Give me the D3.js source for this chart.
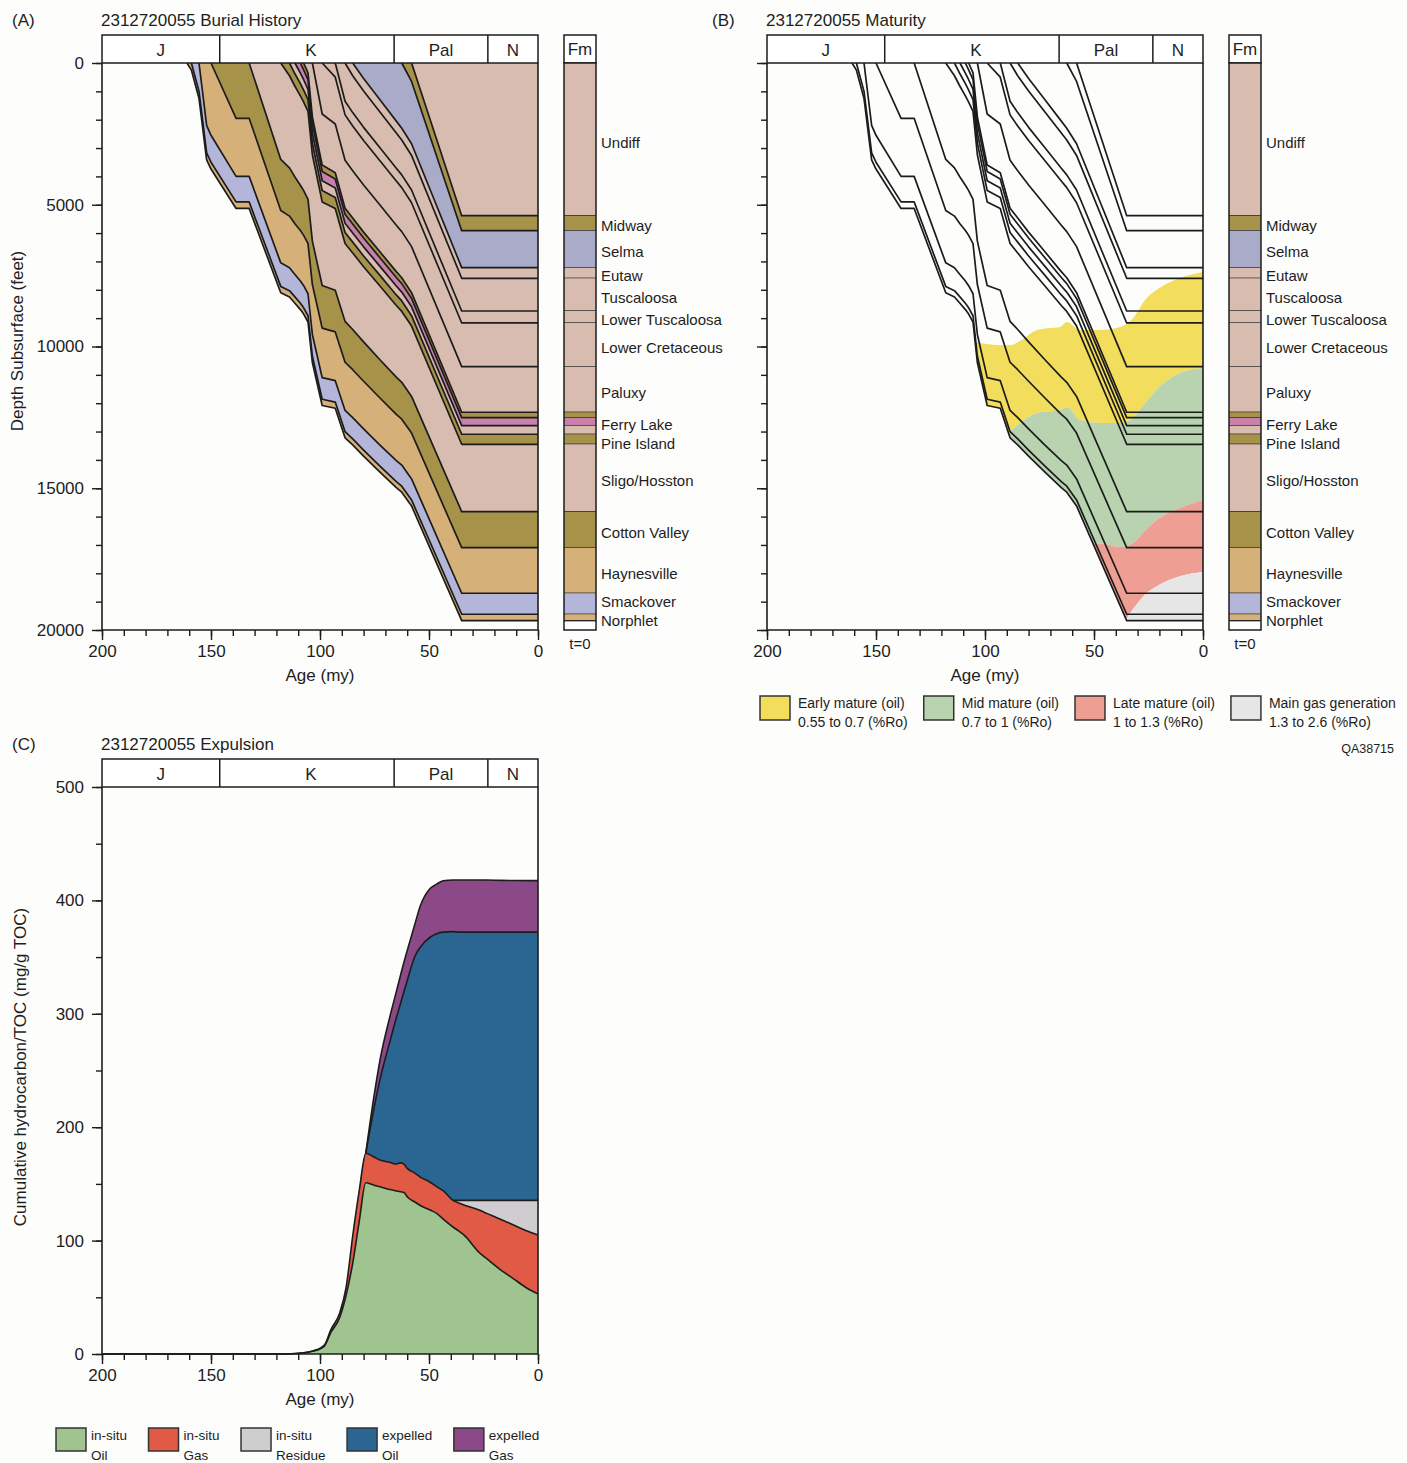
<!DOCTYPE html>
<html>
<head>
<meta charset="utf-8">
<title>2312720055 burial history, maturity and expulsion</title>
<script src="https://cdn.jsdelivr.net/npm/d3@7"></script>
<style>
  body { margin: 0; background: #fdfdfc; }
  svg text { font-family: "Liberation Sans", Arial, sans-serif; fill: #1e1e1e; }
</style>
</head>
<body>
<script>
var w = 1407, h = 1463;

// ---------------- DATA ----------------
var periodNames = ["J", "K", "Pal", "N"];
var periodBounds = [200, 146, 66, 23, 0];

// burial model time steps (my)
var steps = [161, 159, 155.5, 152, 150, 138.5, 132.5, 118, 114, 111.5, 109, 107.5, 105.5, 103.5, 99, 93, 88.5, 85, 80, 72.5, 65, 62.5, 58, 35, 0];

// layer thickness (feet) at each step, youngest first
var thUndiff       = [0,0,0,0,0,0,0,0,0,0,0,0,0,0,0,0,0,0,0,0,0,0,0,5386,5386];
var thMidway       = [0,0,0,0,0,0,0,0,0,0,0,0,0,0,0,0,0,0,0,0,0,0,650,529,529];
var thSelma        = [0,0,0,0,0,0,0,0,0,0,0,0,0,0,0,0,0,0,550,1300,2050,2300,2200,1305,1305];
var thEutaw        = [0,0,0,0,0,0,0,0,0,0,0,0,0,0,0,0,0,450,440,430,420,415,410,374,374];
var thTusc         = [0,0,0,0,0,0,0,0,0,0,0,0,0,0,0,0,1350,1300,1280,1260,1240,1230,1220,1153,1153];
var thLowerTusc    = [0,0,0,0,0,0,0,0,0,0,0,0,0,0,0,500,480,470,465,460,455,452,448,423,423];
var thLowerCret    = [0,0,0,0,0,0,0,0,0,0,0,0,0,0,1800,1650,1600,1580,1570,1560,1555,1550,1548,1542,1542];
var thPaluxy       = [0,0,0,0,0,0,0,0,0,0,0,0,350,1900,1800,1720,1690,1670,1660,1650,1640,1630,1625,1608,1608];
var thUnitA        = [0,0,0,0,0,0,0,0,0,0,0,240,235,230,225,220,215,212,210,208,206,205,204,191,191];
var thFerryLake    = [0,0,0,0,0,0,0,0,0,0,360,350,345,340,330,320,315,312,310,305,300,298,296,282,282];
var thUnitB        = [0,0,0,0,0,0,0,0,0,380,370,365,360,355,345,335,330,325,322,318,315,313,311,303,303];
var thPineIsland   = [0,0,0,0,0,0,0,0,450,440,430,425,420,410,400,390,385,380,378,375,372,370,368,353,353];
var thSligo        = [0,0,0,0,0,0,0,3400,3250,3200,3150,3120,3100,3050,2950,2880,2750,2700,2650,2600,2530,2500,2480,2377,2377];
var thCottonValley = [0,0,0,0,0,1950,1950,1800,1700,1650,1600,1580,1560,1530,1500,1470,1440,1420,1390,1350,1310,1300,1295,1270,1270];
var thHaynesville  = [0,0,0,2200,2550,2050,2050,1850,1820,1790,1780,1775,1770,1760,1750,1720,1700,1690,1680,1660,1630,1620,1615,1608,1608];
var thSmackover    = [0,0,1000,970,950,900,900,830,810,790,785,780,775,770,760,755,750,748,747,745,744,743,742,741,741];
var thNorphlet     = [0,250,250,245,240,230,230,225,225,225,224,223,222,221,220,218,216,215,214,213,212,212,212,227,227];

var fmKeys = ["Undiff", "Midway", "Selma", "Eutaw", "Tuscaloosa", "LowerTuscaloosa", "LowerCretaceous", "Paluxy",
  "UnitA", "FerryLake", "UnitB", "PineIsland", "Sligo", "CottonValley", "Haynesville", "Smackover", "Norphlet"];
var fmLabels = ["Undiff", "Midway", "Selma", "Eutaw", "Tuscaloosa", "Lower Tuscaloosa", "Lower Cretaceous", "Paluxy",
  "", "Ferry Lake", "", "Pine Island", "Sligo/Hosston", "Cotton Valley", "Haynesville", "Smackover", "Norphlet"];
var thickness = {
  Undiff: thUndiff, Midway: thMidway, Selma: thSelma, Eutaw: thEutaw, Tuscaloosa: thTusc,
  LowerTuscaloosa: thLowerTusc, LowerCretaceous: thLowerCret, Paluxy: thPaluxy, UnitA: thUnitA,
  FerryLake: thFerryLake, UnitB: thUnitB, PineIsland: thPineIsland, Sligo: thSligo,
  CottonValley: thCottonValley, Haynesville: thHaynesville, Smackover: thSmackover, Norphlet: thNorphlet
};

// maturity (%Ro) iso-lines, depth (feet) at ages
var matAges = [120, 105, 100, 93, 88, 84, 76, 70, 65.6, 62.4, 56.4, 47, 38, 32, 26.6, 20, 10.6, 0];
var ro055 = [9950, 9840, 9900, 9946, 9946, 9805, 9417, 9350, 9311, 9135, 9417, 9417, 9311, 8994, 8359, 7936, 7584, 7371];
var ro070 = [13500, 13400, 13300, 13100, 12944, 12700, 12345, 12280, 12239, 12133, 12591, 12697, 12697, 12500, 12000, 11428, 10934, 10758];
var ro100 = [17000, 17000, 17000, 17000, 17000, 17000, 17000, 17000, 17000, 17000, 17000, 16950, 17071, 16930, 16500, 16050, 15700, 15413];
var ro130 = [19900, 19900, 19900, 19900, 19900, 19900, 19900, 19900, 19900, 19900, 19900, 19900, 19822, 19250, 18750, 18400, 18100, 17952];
var matNames = ["Early mature (oil)", "Mid mature (oil)", "Late mature (oil)", "Main gas generation"];
var matRanges = ["0.55 to 0.7 (%Ro)", "0.7 to 1 (%Ro)", "1 to 1.3 (%Ro)", "1.3 to 2.6 (%Ro)"];

// expulsion (mg/g TOC), per component
var expAges      = [200, 120, 111, 103, 98, 95, 91, 88, 85, 82, 79, 75.5, 72.5, 68, 65.5, 63, 61.5, 60, 56.5, 54, 49.5, 46.5, 43.5, 39, 36, 34, 27, 23.5, 17, 11, 5, 0];
var inSituOil    = [0, 0, 0.5, 2.6, 7, 19, 32, 52, 80, 117, 151, 149, 147.5, 145, 144, 143, 142.5, 138.7, 134, 131, 127, 124, 119, 112, 108, 105, 89.5, 84, 74, 66, 58, 53];
var inSituGas    = [0, 0, 0, 0.3, 1, 2.5, 4, 7, 24, 27, 26, 25, 23.5, 24, 23.5, 25.5, 25, 25, 25.5, 25, 24.5, 23.6, 25, 23.5, 25, 26.5, 37.4, 40, 44.7, 47.6, 50.5, 52];
var inSituResidue= [0, 0, 0, 0, 0, 0, 0, 0, 0, 0, 0, 0, 0, 0, 0, 0, 0, 0, 0, 0, 0, 0, 0, 0, 2.5, 4, 8.6, 11.5, 16.8, 21.9, 27, 30.5];
var expelledOil  = [0, 0, 0, 0, 0, 0, 0, 0, 0, 0, 0, 40, 71, 106, 125.5, 141, 152, 165.5, 191, 202.7, 216, 223, 228, 237, 236.5, 236.5, 236.5, 236.5, 236.5, 236.5, 236.5, 236.5];
var expelledGas  = [0, 0, 0, 0, 0, 0, 0, 0, 0, 0, 0, 10, 17, 22, 22.8, 25, 26, 26.5, 28.5, 36.3, 43, 43.7, 45.4, 45.5, 46, 46, 46, 46, 45.7, 45.5, 45.4, 45.4];
var expKeys   = ["inSituOil", "inSituGas", "inSituResidue", "expelledOil", "expelledGas"];
var expLabels = [["in-situ", "Oil"], ["in-situ", "Gas"], ["in-situ", "Residue"], ["expelled", "Oil"], ["expelled", "Gas"]];

// ---------------- STYLE ----------------
var PB = "#d8bcb0", OL = "#a69249", LAV = "#a9abc9", LAV2 = "#b4b6d9", TAN = "#d6b079", PINK = "#c880ac";
var fmColors = [PB, OL, LAV, PB, PB, PB, PB, PB, OL, PINK, PB, OL, PB, OL, TAN, LAV2, TAN];
var matColors = ["#f2dd5c", "#b9d3b1", "#ee9e92", "#e6e6e6"];
var expColors = ["#9fc48f", "#e05a45", "#d0cdd0", "#2b6692", "#8b4a87"];
var ink = "#1c1c1c";

// ---------------- SETUP ----------------
var svg = d3.select("body").append("svg").attr("width", w).attr("height", h);
svg.append("rect").attr("width", w).attr("height", h).attr("fill", "#fdfdfc");

var xA = d3.scaleLinear().domain([200, 0]).range([102, 538]);
var xB = d3.scaleLinear().domain([200, 0]).range([767, 1203]);
var yD = d3.scaleLinear().domain([0, 20000]).range([63, 630]);
var yC = d3.scaleLinear().domain([0, 500]).range([1354, 787]);

var burialRows = steps.map(function (age, i) {
  var row = { age: age };
  fmKeys.forEach(function (k) { row[k] = thickness[k][i]; });
  return row;
});
var burialStack = d3.stack().keys(fmKeys)(burialRows);

function txt(x, y, s, size, anchor) {
  return svg.append("text").attr("x", x).attr("y", y).attr("dy", "0.35em")
    .attr("font-size", size).attr("text-anchor", anchor || "start").text(s);
}

function header(x, top) {
  var g = svg.append("g");
  g.append("rect").attr("x", x(200)).attr("y", top).attr("width", x(0) - x(200)).attr("height", 28)
    .attr("fill", "#fff").attr("stroke", ink).attr("stroke-width", 1.5);
  periodBounds.slice(1, -1).forEach(function (b) {
    g.append("line").attr("x1", x(b)).attr("x2", x(b)).attr("y1", top).attr("y2", top + 28)
      .attr("stroke", ink).attr("stroke-width", 1.5);
  });
  periodNames.forEach(function (n, i) {
    g.append("text").attr("x", (x(periodBounds[i]) + x(periodBounds[i + 1])) / 2 + (i == 1 ? 4 : 0)).attr("y", top + 15)
      .attr("dy", "0.35em").attr("text-anchor", "middle").attr("font-size", 17).text(n);
  });
}

function xAxis(x, y0) {
  var minor = svg.append("g").attr("transform", "translate(0," + y0 + ")")
    .call(d3.axisBottom(x).tickValues(d3.range(0, 201, 10)).tickSize(6).tickFormat(""));
  var major = svg.append("g").attr("transform", "translate(0," + y0 + ")")
    .call(d3.axisBottom(x).tickValues([200, 150, 100, 50, 0]).tickSize(10).tickPadding(5).tickFormat(d3.format("d")));
  [minor, major].forEach(function (g) {
    g.select(".domain").remove();
    g.attr("font-size", 17).attr("font-family", null);
    g.selectAll("line").attr("stroke", ink).attr("stroke-width", 1.4);
  });
  svg.append("line").attr("x1", x(200)).attr("x2", x(0)).attr("y1", y0).attr("y2", y0)
    .attr("stroke", ink).attr("stroke-width", 1.6);
  txt((x(200) + x(0)) / 2, y0 + 45, "Age (my)", 17, "middle");
}

function yAxis(y, x0, majorTicks, minorTicks, labelled) {
  var minor = svg.append("g").attr("transform", "translate(" + x0 + ",0)")
    .call(d3.axisLeft(y).tickValues(minorTicks).tickSize(6).tickFormat(""));
  var major = svg.append("g").attr("transform", "translate(" + x0 + ",0)")
    .call(d3.axisLeft(y).tickValues(majorTicks).tickSize(10).tickPadding(8)
      .tickFormat(labelled ? d3.format("d") : ""));
  [minor, major].forEach(function (g) {
    g.select(".domain").remove();
    g.attr("font-size", 17).attr("font-family", null);
    g.selectAll("line").attr("stroke", ink).attr("stroke-width", 1.4);
  });
}

function vline(x, y1, y2) {
  svg.append("line").attr("x1", x).attr("x2", x).attr("y1", y1).attr("y2", y2)
    .attr("stroke", ink).attr("stroke-width", 1.6);
}

// ---------------- BURIAL PANELS ----------------
function horizonLines(g, x) {
  var line = d3.line().x(function (d) { return x(d.data.age); }).y(function (d) { return yD(d[1]); });
  burialStack.forEach(function (s) {
    var first = s.findIndex(function (d) { return d[1] > 0; });
    g.append("path").attr("d", line(s.slice(Math.max(first - 1, 0))))
      .attr("fill", "none").attr("stroke", ink).attr("stroke-width", 1.7).attr("stroke-linejoin", "round");
  });
}

function fmColumn(x0) {
  var cw = 32;
  var g = svg.append("g");
  g.append("rect").attr("x", x0).attr("y", 35).attr("width", cw).attr("height", 28)
    .attr("fill", "#fff").attr("stroke", ink).attr("stroke-width", 1.5);
  g.append("text").attr("x", x0 + cw / 2).attr("y", 49).attr("dy", "0.35em").attr("text-anchor", "middle")
    .attr("font-size", 17).text("Fm");
  g.append("rect").attr("x", x0).attr("y", yD(0)).attr("width", cw).attr("height", yD(20000) - yD(0)).attr("fill", "#fff");
  var present = burialStack.map(function (s) { return s[s.length - 1]; });
  present.forEach(function (d, i) {
    g.append("rect").attr("x", x0).attr("y", yD(d[0])).attr("width", cw).attr("height", yD(d[1]) - yD(d[0]))
      .attr("fill", fmColors[i]);
    g.append("line").attr("x1", x0).attr("x2", x0 + cw).attr("y1", yD(d[1])).attr("y2", yD(d[1]))
      .attr("stroke", ink).attr("stroke-width", 1.3);
  });
  g.append("rect").attr("x", x0).attr("y", yD(0)).attr("width", cw).attr("height", yD(20000) - yD(0))
    .attr("fill", "none").attr("stroke", ink).attr("stroke-width", 1.5);
  // labels: centred on the layer, pushed apart where layers are thin
  var ys = [], idx = [];
  present.forEach(function (d, i) {
    if (!fmLabels[i]) return;
    idx.push(i);
    ys.push((yD(d[0]) + yD(d[1])) / 2 + 3);
  });
  for (var k = 1; k < ys.length; k++) ys[k] = Math.max(ys[k], ys[k - 1] + 19);
  ys[ys.length - 1] = Math.min(ys[ys.length - 1], yD(20000) - 9);
  for (k = ys.length - 2; k >= 0; k--) ys[k] = Math.min(ys[k], ys[k + 1] - 19);
  idx.forEach(function (i, k) {
    g.append("text").attr("x", x0 + cw + 5).attr("y", ys[k]).attr("dy", "0.35em").attr("font-size", 15).text(fmLabels[i]);
  });
  g.append("text").attr("x", x0 + cw / 2).attr("y", 644).attr("dy", "0.35em").attr("text-anchor", "middle")
    .attr("font-size", 15).text("t=0");
}

function burialFrame(x, letterX, title, letter) {
  header(x, 35);
  vline(x(200), 63, 630);
  vline(x(0), 63, 630);
  xAxis(x, 630);
  txt(letterX, 20, letter, 17);
  txt(x(200) - 1, 20, title, 17);
}

// Panel A: filled layers
var gA = svg.append("g");
burialStack.forEach(function (s, i) {
  gA.append("path")
    .attr("d", d3.area().x(function (d) { return xA(d.data.age); })
      .y0(function (d) { return yD(d[0]); }).y1(function (d) { return yD(d[1]); })(s))
    .attr("fill", fmColors[i]);
});
horizonLines(gA, xA);
burialFrame(xA, 12, "2312720055 Burial History", "(A)");
yAxis(yD, 102, [0, 5000, 10000, 15000, 20000], d3.range(0, 20001, 1000), true);
svg.append("text").attr("transform", "translate(17,341) rotate(-90)").attr("text-anchor", "middle")
  .attr("dy", "0.35em").attr("font-size", 17).text("Depth Subsurface (feet)");
fmColumn(564);

// Panel B: maturity windows clipped to the sediment pile
var base = burialStack[burialStack.length - 1];
svg.append("clipPath").attr("id", "sed").append("path")
  .attr("d", d3.area().x(function (d) { return xB(d.data.age); }).y0(yD(0))
    .y1(function (d) { return yD(d[1]); })(base));
var gB = svg.append("g");
var gMat = gB.append("g").attr("clip-path", "url(#sed)");
var iso = [ro055, ro070, ro100, ro130];
iso.forEach(function (top, k) {
  var bottom = iso[k + 1];
  gMat.append("path")
    .attr("d", d3.area().curve(d3.curveMonotoneX)
      .x(function (a) { return xB(a); })
      .y0(function (a, j) { return yD(top[j]); })
      .y1(function (a, j) { return bottom ? yD(bottom[j]) : yD(21000); })(matAges))
    .attr("fill", matColors[k]);
});
horizonLines(gB, xB);
burialFrame(xB, 712, "2312720055 Maturity", "(B)");
yAxis(yD, 767, [0, 5000, 10000, 15000, 20000], d3.range(0, 20001, 1000), false);
fmColumn(1229);

// maturity legend
(function () {
  var lx = 760;
  matNames.forEach(function (n, i) {
    svg.append("rect").attr("x", lx).attr("y", 696).attr("width", 30).attr("height", 24)
      .attr("fill", matColors[i]).attr("stroke", "#333").attr("stroke-width", 1.5);
    var t1 = txt(lx + 38, 703, n, 14);
    var t2 = txt(lx + 38, 722, matRanges[i], 14);
    var tw = Math.max(t1.node().getComputedTextLength(), t2.node().getComputedTextLength());
    lx = lx + 38 + tw + 16;
  });
  txt(1394, 749, "QA38715", 12.5, "end");
})();

// ---------------- EXPULSION PANEL ----------------
var expSeries = { inSituOil: inSituOil, inSituGas: inSituGas, inSituResidue: inSituResidue, expelledOil: expelledOil, expelledGas: expelledGas };
var expRows = expAges.map(function (a, i) {
  var r = { age: a };
  expKeys.forEach(function (k) { r[k] = expSeries[k][i]; });
  return r;
});
var expStack = d3.stack().keys(expKeys)(expRows);
var gC = svg.append("g");
expStack.forEach(function (s, i) {
  gC.append("path")
    .attr("d", d3.area().curve(d3.curveMonotoneX)
      .x(function (d) { return xA(d.data.age); })
      .y0(function (d) { return yC(d[0]); }).y1(function (d) { return yC(d[1]); })(s))
    .attr("fill", expColors[i]);
});
expStack.forEach(function (s, i) {
  var first = i < 2 ? 1 : s.findIndex(function (d) { return d[1] - d[0] > 0; });
  gC.append("path")
    .attr("d", d3.line().curve(d3.curveMonotoneX)
      .x(function (d) { return xA(d.data.age); }).y(function (d) { return yC(d[1]); })(s.slice(first - 1)))
    .attr("fill", "none").attr("stroke", ink).attr("stroke-width", 1.6);
});
header(xA, 759);
vline(xA(200), 787, 1354);
vline(xA(0), 787, 1354);
xAxis(xA, 1354);
yAxis(yC, 102, [0, 100, 200, 300, 400, 500], d3.range(0, 501, 50), true);
txt(12, 744, "(C)", 17);
txt(101, 744, "2312720055 Expulsion", 17);
svg.append("text").attr("transform", "translate(20,1067) rotate(-90)").attr("text-anchor", "middle")
  .attr("dy", "0.35em").attr("font-size", 17).text("Cumulative hydrocarbon/TOC (mg/g TOC)");

// expulsion legend
(function () {
  var lx = 56;
  expLabels.forEach(function (l, i) {
    svg.append("rect").attr("x", lx).attr("y", 1428).attr("width", 30).attr("height", 23)
      .attr("fill", expColors[i]).attr("stroke", "#333").attr("stroke-width", 1.5);
    var t1 = txt(lx + 35, 1435, l[0], 13.5);
    var t2 = txt(lx + 35, 1455, l[1], 13.5);
    var tw = Math.max(t1.node().getComputedTextLength(), t2.node().getComputedTextLength());
    lx = lx + 35 + tw + 21.5;
  });
})();
</script>
</body>
</html>
